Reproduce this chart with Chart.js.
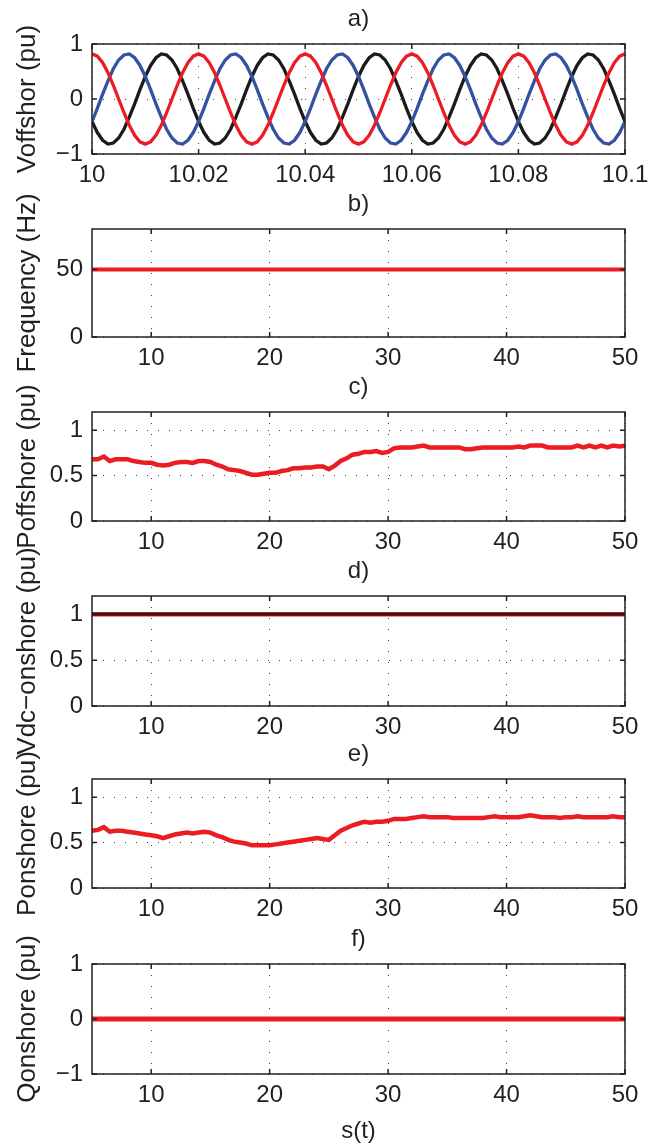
<!DOCTYPE html>
<html>
<head>
<meta charset="utf-8">
<script src="https://cdn.jsdelivr.net/npm/chart.js@4.4.1/dist/chart.umd.min.js"></script>
<style>
  html, body { margin: 0; padding: 0; background: #fff; }
  #wrap { position: relative; width: 651px; height: 1145px; overflow: hidden; }
  #wrap canvas { position: absolute; left: 0; }
</style>
</head>
<body>
<div id="wrap"></div>
<script>
const FONT = '"Liberation Sans", Arial, Helvetica, sans-serif';
const INK = '#231f20';
const RED = '#ec1c24';
const BLUE = '#3650a2';
const BLACK = '#1b1b1b';

// a) three-phase offshore voltage, sampled every 1 ms from t = 10 s
const tStart = 10;
const tStep = 0.001;
const vRed = [
  0.82,0.78,0.66,0.48,0.25,0.00,-0.25,-0.48,-0.66,-0.78,-0.82,-0.78,-0.66,-0.48,-0.25,0.00,0.25,0.48,0.66,0.78,
  0.82,0.78,0.66,0.48,0.25,0.00,-0.25,-0.48,-0.66,-0.78,-0.82,-0.78,-0.66,-0.48,-0.25,0.00,0.25,0.48,0.66,0.78,
  0.82,0.78,0.66,0.48,0.25,0.00,-0.25,-0.48,-0.66,-0.78,-0.82,-0.78,-0.66,-0.48,-0.25,0.00,0.25,0.48,0.66,0.78,
  0.82,0.78,0.66,0.48,0.25,0.00,-0.25,-0.48,-0.66,-0.78,-0.82,-0.78,-0.66,-0.48,-0.25,0.00,0.25,0.48,0.66,0.78,
  0.82,0.78,0.66,0.48,0.25,0.00,-0.25,-0.48,-0.66,-0.78,-0.82,-0.78,-0.66,-0.48,-0.25,0.00,0.25,0.48,0.66,0.78,
  0.82
];
const vBlue = [
  -0.41,-0.17,0.09,0.33,0.55,0.71,0.80,0.82,0.75,0.61,0.41,0.17,-0.09,-0.33,-0.55,-0.71,-0.80,-0.82,-0.75,-0.61,
  -0.41,-0.17,0.09,0.33,0.55,0.71,0.80,0.82,0.75,0.61,0.41,0.17,-0.09,-0.33,-0.55,-0.71,-0.80,-0.82,-0.75,-0.61,
  -0.41,-0.17,0.09,0.33,0.55,0.71,0.80,0.82,0.75,0.61,0.41,0.17,-0.09,-0.33,-0.55,-0.71,-0.80,-0.82,-0.75,-0.61,
  -0.41,-0.17,0.09,0.33,0.55,0.71,0.80,0.82,0.75,0.61,0.41,0.17,-0.09,-0.33,-0.55,-0.71,-0.80,-0.82,-0.75,-0.61,
  -0.41,-0.17,0.09,0.33,0.55,0.71,0.80,0.82,0.75,0.61,0.41,0.17,-0.09,-0.33,-0.55,-0.71,-0.80,-0.82,-0.75,-0.61,
  -0.41
];
const vBlack = [
  -0.41,-0.61,-0.75,-0.82,-0.80,-0.71,-0.55,-0.33,-0.09,0.17,0.41,0.61,0.75,0.82,0.80,0.71,0.55,0.33,0.09,-0.17,
  -0.41,-0.61,-0.75,-0.82,-0.80,-0.71,-0.55,-0.33,-0.09,0.17,0.41,0.61,0.75,0.82,0.80,0.71,0.55,0.33,0.09,-0.17,
  -0.41,-0.61,-0.75,-0.82,-0.80,-0.71,-0.55,-0.33,-0.09,0.17,0.41,0.61,0.75,0.82,0.80,0.71,0.55,0.33,0.09,-0.17,
  -0.41,-0.61,-0.75,-0.82,-0.80,-0.71,-0.55,-0.33,-0.09,0.17,0.41,0.61,0.75,0.82,0.80,0.71,0.55,0.33,0.09,-0.17,
  -0.41,-0.61,-0.75,-0.82,-0.80,-0.71,-0.55,-0.33,-0.09,0.17,0.41,0.61,0.75,0.82,0.80,0.71,0.55,0.33,0.09,-0.17,
  -0.41
];
const ticksA = [10, 10.02, 10.04, 10.06, 10.08, 10.1];

// c) and e) active power, sampled every 0.5 s from t = 5 s
const tSlowStart = 5;
const tSlowStep = 0.5;
const pOffshore = [
  0.68,0.68,0.71,0.66,0.68,0.68,0.68,0.66,0.65,0.64,0.64,0.62,0.61,0.62,0.64,0.65,0.65,0.64,0.66,0.66,
  0.65,0.62,0.60,0.57,0.56,0.55,0.53,0.51,0.51,0.52,0.53,0.53,0.55,0.56,0.58,0.58,0.59,0.59,0.60,0.60,
  0.57,0.61,0.66,0.69,0.73,0.74,0.76,0.76,0.77,0.75,0.76,0.80,0.81,0.81,0.81,0.82,0.83,0.81,0.81,0.81,
  0.81,0.81,0.81,0.79,0.79,0.80,0.81,0.81,0.81,0.81,0.81,0.81,0.82,0.81,0.83,0.83,0.83,0.81,0.81,0.81,
  0.81,0.81,0.83,0.81,0.83,0.81,0.83,0.81,0.83,0.82,0.83
];
const pOnshore = [
  0.63,0.64,0.67,0.62,0.63,0.63,0.62,0.61,0.60,0.59,0.58,0.57,0.55,0.57,0.59,0.60,0.61,0.60,0.61,0.62,
  0.61,0.58,0.56,0.53,0.51,0.50,0.49,0.47,0.47,0.47,0.47,0.48,0.49,0.50,0.51,0.52,0.53,0.54,0.55,0.54,
  0.53,0.58,0.63,0.66,0.69,0.71,0.73,0.72,0.73,0.73,0.74,0.76,0.76,0.76,0.77,0.78,0.79,0.78,0.78,0.78,
  0.78,0.77,0.77,0.77,0.77,0.77,0.77,0.78,0.79,0.78,0.78,0.78,0.78,0.79,0.80,0.79,0.78,0.78,0.78,0.77,
  0.78,0.78,0.79,0.78,0.78,0.78,0.78,0.78,0.79,0.78,0.78
];

// b), d), f) constant traces
const tFlat = [5, 50];
const frequency = [50, 50];
const vdcOnshore = [1, 1];
const qOnshore = [0, 0];
const ticksSlow = [10, 20, 30, 40, 50];

const pts = (xs, ys) => ys.map((y, i) => ({ x: xs[i], y }));
const tFast = vRed.map((_, i) => tStart + i * tStep);
const tSlow = pOffshore.map((_, i) => tSlowStart + i * tSlowStep);

const frame = {
  id: 'frame',
  afterDatasetsDraw(chart, args, opts) {
    const { ctx, chartArea: a, scales } = chart;
    ctx.save();
    ctx.strokeStyle = INK;
    ctx.lineWidth = 1.5;
    ctx.strokeRect(a.left, a.top, a.right - a.left, a.bottom - a.top);
    ctx.beginPath();
    scales.x.ticks.forEach(t => {
      const px = scales.x.getPixelForValue(t.value);
      ctx.moveTo(px, a.bottom); ctx.lineTo(px, a.bottom - 5);
      ctx.moveTo(px, a.top); ctx.lineTo(px, a.top + 5);
    });
    scales.y.ticks.forEach(t => {
      const py = scales.y.getPixelForValue(t.value);
      ctx.moveTo(a.left, py); ctx.lineTo(a.left + 5, py);
      ctx.moveTo(a.right, py); ctx.lineTo(a.right - 5, py);
    });
    ctx.stroke();
    ctx.fillStyle = INK;
    ctx.textAlign = 'center';
    ctx.textBaseline = 'middle';
    ctx.font = '24px ' + FONT;
    const cx = (a.left + a.right) / 2;
    ctx.fillText(opts.tag, cx, a.top - 25);
    if (opts.xlabel) ctx.fillText(opts.xlabel, cx, a.bottom + 57);
    ctx.translate(28, (a.top + a.bottom) / 2);
    ctx.rotate(-Math.PI / 2);
    ctx.font = '26px ' + FONT;
    ctx.fillText(opts.ylabel, 0, 0);
    ctx.restore();
  }
};

const fmt = v => String(Number(Number(v).toFixed(2))).replace('-', '\u2212');

function line(data, color, width) {
  return { data, borderColor: color, borderWidth: width, pointRadius: 0, tension: 0, fill: false };
}

const panels = [
  { tag: 'a)', ylabel: 'Voffshor (pu)', top: 44, h: 110, x: [10, 10.1], xt: ticksA, y: [-1, 1], yt: [-1, 0, 1],
    sets: [line(pts(tFast, vRed), RED, 3.3), line(pts(tFast, vBlue), BLUE, 3.3), line(pts(tFast, vBlack), BLACK, 3.3)] },
  { tag: 'b)', ylabel: 'Frequency (Hz)', top: 229, h: 108, x: [5, 50], xt: ticksSlow, y: [0, 80], yt: [0, 50],
    sets: [line(pts(tFlat, frequency), RED, 4)] },
  { tag: 'c)', ylabel: 'Poffshore (pu)', top: 412, h: 109, x: [5, 50], xt: ticksSlow, y: [0, 1.2], yt: [0, 0.5, 1],
    sets: [line(pts(tSlow, pOffshore), RED, 4.5)] },
  { tag: 'd)', ylabel: 'Vdc\u2212onshore (pu)', top: 596, h: 110, x: [5, 50], xt: ticksSlow, y: [0, 1.2], yt: [0, 0.5, 1],
    sets: [line(pts(tFlat, vdcOnshore), '#3a1518', 3), line(pts(tFlat, vdcOnshore), RED, 4.5)] },
  { tag: 'e)', ylabel: 'Ponshore (pu)', top: 779, h: 109, x: [5, 50], xt: ticksSlow, y: [0, 1.2], yt: [0, 0.5, 1],
    sets: [line(pts(tSlow, pOnshore), RED, 4.5)] },
  { tag: 'f)', ylabel: 'Qonshore (pu)', top: 964, h: 110, x: [5, 50], xt: ticksSlow, y: [-1, 1], yt: [-1, 0, 1],
    xlabel: 's(t)', sets: [line(pts(tFlat, qOnshore), RED, 5)] }
];

const wrap = document.getElementById('wrap');
const ABOVE = 80, BELOW = 170, XH = 40;

panels.forEach(p => {
  const cv = document.createElement('canvas');
  cv.width = 651;
  cv.height = ABOVE + p.h + BELOW;
  cv.style.top = (p.top - ABOVE) + 'px';
  wrap.appendChild(cv);
  p.sets.forEach((s, i) => { s.order = i; });
  new Chart(cv, {
    type: 'line',
    data: { datasets: p.sets },
    options: {
      responsive: false,
      animation: false,
      events: [],
      layout: { padding: { top: ABOVE, left: 0, right: 26, bottom: BELOW - XH } },
      plugins: {
        legend: { display: false },
        tooltip: { enabled: false },
        frame: { tag: p.tag, ylabel: p.ylabel, xlabel: p.xlabel }
      },
      scales: {
        x: {
          type: 'linear', min: p.x[0], max: p.x[1],
          afterBuildTicks: s => { s.ticks = p.xt.map(v => ({ value: v })); },
          afterFit: s => { s.height = XH; s.paddingLeft = 0; s.paddingRight = 0; },
          ticks: { color: INK, font: { family: FONT, size: 24 }, padding: 7, maxRotation: 0, autoSkip: false, callback: v => fmt(v) },
          grid: { color: '#444', lineWidth: 1, drawTicks: false },
          border: { display: false, dash: [1, 10] }
        },
        y: {
          type: 'linear', min: p.y[0], max: p.y[1],
          afterBuildTicks: s => { s.ticks = p.yt.map(v => ({ value: v })); },
          afterFit: s => { s.width = 92; s.paddingTop = 0; s.paddingBottom = 0; },
          ticks: { color: INK, font: { family: FONT, size: 24 }, padding: 9, autoSkip: false, callback: v => fmt(v) },
          grid: { color: '#444', lineWidth: 1, drawTicks: false },
          border: { display: false, dash: [1, 10] }
        }
      }
    },
    plugins: [frame]
  });
});
</script>
</body>
</html>
